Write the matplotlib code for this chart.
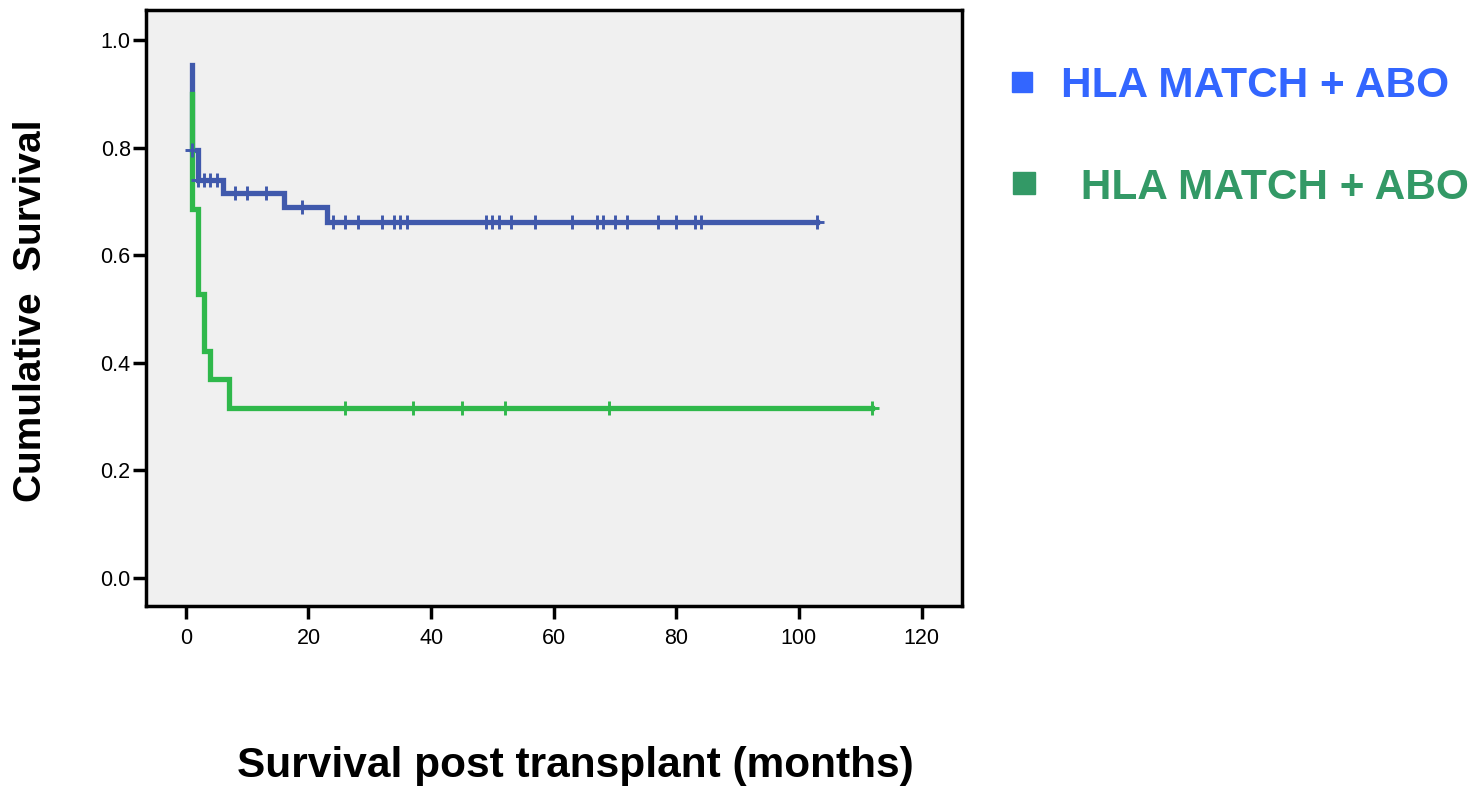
import numpy as np
import matplotlib
matplotlib.use("Agg")
import matplotlib.pyplot as plt
from matplotlib.patches import Rectangle

plt.rcParams['font.family'] = ['Liberation Sans', 'DejaVu Sans']

# ---- data ----
# Group 1 (blue): step times and survival after each step
blue_times = [1, 1, 2, 6, 16, 23, 103]
blue_surv = [0.953, 0.795, 0.740, 0.716, 0.690, 0.662, 0.662]
blue_censored = [1, 2, 3, 4, 5, 8, 10, 13, 19, 24, 26, 28, 32, 34, 35, 36,
                 49, 50, 51, 53, 57, 63, 67, 68, 70, 72, 77, 80, 83, 84, 103]

# Group 2 (green)
green_times = [1, 1, 2, 3, 4, 7, 112]
green_surv = [0.900, 0.686, 0.528, 0.422, 0.370, 0.316, 0.316]
green_censored = [26, 37, 45, 52, 69, 112]

legend_labels = ["HLA MATCH + ABO", " HLA MATCH + ABO"]
x_ticks = [0, 20, 40, 60, 80, 100, 120]
y_ticks = [0.0, 0.2, 0.4, 0.6, 0.8, 1.0]

# ---- styles ----
BLUE_LINE = "#4059AC"
GREEN_LINE = "#2FB84B"
BLUE_LEG = "#3366FF"
GREEN_LEG = "#339966"


def step_value(times, surv, t):
    times = np.asarray(times, float)
    surv = np.asarray(surv, float)
    idx = np.searchsorted(times, t, side="right") - 1
    idx = np.clip(idx, 0, len(surv) - 1)
    return surv[idx]


W, H = 1484, 789
fig = plt.figure(figsize=(W / 100, H / 100), dpi=100)
ax = fig.add_axes([146 / W, 1 - 606 / H, (962 - 146) / W, (606 - 10) / H])
ax.set_facecolor("#F0F0F0")

ax.step(blue_times, blue_surv, where="post", color=BLUE_LINE, lw=3.8,
        solid_joinstyle="miter", zorder=2)
ax.step(green_times, green_surv, where="post", color=GREEN_LINE, lw=3.8,
        solid_joinstyle="miter", zorder=3)

bc = np.array(blue_censored, float)
ax.plot(bc, step_value(blue_times, blue_surv, bc), ls="none", marker="+",
        ms=10, mew=2.1, color=BLUE_LINE, zorder=4)
gc = np.array(green_censored, float)
ax.plot(gc, step_value(green_times, green_surv, gc), ls="none", marker="+",
        ms=10, mew=2.1, color=GREEN_LINE, zorder=4)

ax.set_xlim(-6.5, 126.6)
ax.set_ylim(-0.052, 1.056)
ax.set_xticks(x_ticks)
ax.set_xticklabels([str(v) for v in x_ticks])
ax.set_yticks(y_ticks)
ax.set_yticklabels([f"{v:.1f}" for v in y_ticks])

for s in ax.spines.values():
    s.set_linewidth(2.5)
    s.set_color("black")
ax.tick_params(axis="both", direction="out", length=9.5, width=2.5,
               labelsize=15.5, colors="black")
ax.tick_params(axis="x", pad=6)
ax.tick_params(axis="y", pad=1.5)

# axis titles
fig.text(31 / W, 1 - 311 / H, "Cumulative  Survival", rotation=90,
         ha="center", va="center", fontsize=28, fontweight="bold")
fig.text(575 / W, 1 - 766 / H, "Survival post transplant (months)",
         ha="center", va="center", fontsize=30.5, fontweight="bold")

# legend-like annotation
fig.patches.append(Rectangle((1012 / W, 1 - 92 / H), 20 / W, 20 / H,
                             transform=fig.transFigure, color=BLUE_LEG))
fig.patches.append(Rectangle((1013 / W, 1 - 194 / H), 22 / W, 22 / H,
                             transform=fig.transFigure, color=GREEN_LEG))
fig.text(1061 / W, 1 - 97 / H, legend_labels[0], ha="left", va="baseline",
         fontsize=30.5, fontweight="bold", color=BLUE_LEG)
fig.text(1069 / W, 1 - 199 / H, legend_labels[1], ha="left", va="baseline",
         fontsize=30.5, fontweight="bold", color=GREEN_LEG)

fig.savefig("out.png", dpi=100, facecolor="white")
